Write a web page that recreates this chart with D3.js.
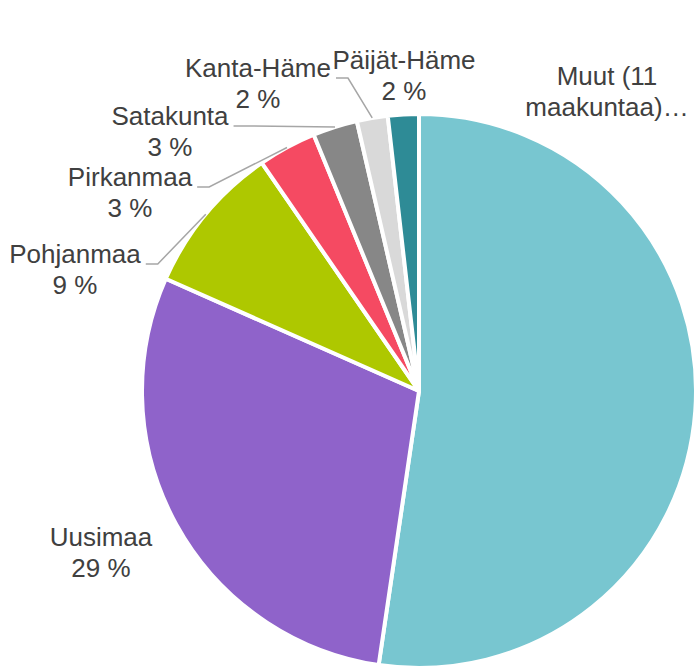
<!DOCTYPE html>
<html>
<head>
<meta charset="utf-8">
<script src="https://cdn.jsdelivr.net/npm/d3@7"></script>
<style>
  body { margin: 0; background: #fff; }
  svg { display: block; }
</style>
</head>
<body>
<svg id="svgPie" width="697" height="669"></svg>
<script>
// data
const regions = ['Muut (11 maakuntaa)', 'Uusimaa', 'Pohjanmaa', 'Pirkanmaa', 'Satakunta', 'Kanta-Häme', 'Päijät-Häme'];
const shares = [52.3, 29.3, 8.75, 3.4, 2.6, 1.8, 1.8];
const labelLines = [
    ['Muut (11', 'maakuntaa)…'],
    ['Uusimaa', '29 %'],
    ['Pohjanmaa', '9 %'],
    ['Pirkanmaa', '3 %'],
    ['Satakunta', '3 %'],
    ['Kanta-Häme', '2 %'],
    ['Päijät-Häme', '2 %']
];
const colors = ['#78C6D0', '#8F63CA', '#AEC800', '#F54A62', '#878787', '#D9D9D9', '#2E8B96'];

// layout (label centre x, first baseline y, has leader)
const labelPos = [
    {x: 607, y: 85, leader: false},
    {x: 101, y: 546, leader: false},
    {x: 75, y: 263, leader: true},
    {x: 130, y: 186, leader: true},
    {x: 170, y: 125, leader: true},
    {x: 258, y: 77, leader: true},
    {x: 404, y: 69, leader: false}
];

const cx = 419, cy = 391, radius = 277;
const lineHeight = 31;

const svg = d3.select('#svgPie');
const g = svg.append('g').attr('transform', `translate(${cx}, ${cy})`);

const pieData = d3.pie()
    .sort(null)
    .value(d => d.value)
    (regions.map((r, i) => ({name: r, value: shares[i], i: i})));

const arc = d3.arc().innerRadius(0).outerRadius(radius);

g.selectAll('.slice')
    .data(pieData)
    .join('path')
        .classed('slice', true)
        .attr('d', arc)
        .style('fill', d => colors[d.data.i])
        .style('stroke', '#fff')
        .style('stroke-width', '4')
        .style('stroke-linejoin', 'round');

// labels
const labels = svg.selectAll('.pieLabel')
    .data(pieData)
    .join('text')
        .classed('pieLabel', true)
        .attr('x', d => labelPos[d.data.i].x)
        .attr('y', d => labelPos[d.data.i].y)
        .style('font-family', '"Liberation Sans", Arial, sans-serif')
        .style('font-size', '26px')
        .style('fill', '#404040')
        .style('text-anchor', 'middle');

labels.selectAll('tspan')
    .data(d => labelLines[d.data.i].map((t, k) => ({t, k, p: labelPos[d.data.i]})))
    .join('tspan')
        .attr('x', d => d.p.x)
        .attr('dy', d => d.k === 0 ? 0 : lineHeight)
        .text(d => d.t);

// leader lines
labels.each(function(d) {
    const p = labelPos[d.data.i];
    if (!p.leader) return;
    const firstLine = d3.select(this).select('tspan').node();
    const w = firstLine.getComputedTextLength();
    const x0 = p.x + w / 2 + 5;
    const y0 = p.y + 1;
    const mid = (d.startAngle + d.endAngle) / 2;
    const ex = cx + radius * Math.sin(mid);
    const ey = cy - radius * Math.cos(mid);
    svg.append('polyline')
        .classed('leader', true)
        .attr('points', `${x0},${y0} ${x0 + 12},${y0} ${ex},${ey}`)
        .style('fill', 'none')
        .style('stroke', '#A6A6A6')
        .style('stroke-width', '1.5');
});
</script>
</body>
</html>
